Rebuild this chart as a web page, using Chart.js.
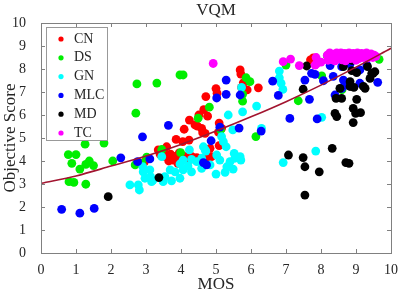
<!DOCTYPE html>
<html>
<head>
<meta charset="utf-8">
<script src="https://cdn.jsdelivr.net/npm/chart.js@4/dist/chart.umd.min.js"></script>
<style>
  body { margin: 0; background: #fff; }
</style>
</head>
<body>
<canvas id="myChart" width="399" height="295"></canvas>
<script>
const seriesNames = ['CN', 'DS', 'GN', 'MLC', 'MD', 'TC']
const seriesColors = ['#ff0000', '#00ee00', '#00ffff', '#0000ff', '#000000', '#ff00ff']

const cnPoints = [
  [2.95, 3.95], [3.35, 4.48], [3.4, 4.3], [3.5, 4.4], [3.54, 4.2], [3.59, 4.62], [3.65, 4.0],
  [3.7, 4.3], [3.77, 4.04], [3.8, 4.2], [3.86, 4.94], [3.91, 3.9], [3.95, 4.35], [4.0, 4.1],
  [4.05, 4.84], [4.09, 5.38], [4.1, 4.2], [4.2, 4.0], [4.23, 4.91], [4.24, 5.78], [4.3, 4.2],
  [4.4, 5.57], [4.45, 4.15], [4.47, 5.52], [4.51, 6.0], [4.59, 5.42], [4.62, 5.23], [4.65, 6.23],
  [4.69, 5.2], [4.71, 6.8], [4.73, 4.15], [4.76, 5.95], [4.83, 4.55], [4.87, 4.19], [5.0, 7.15],
  [5.03, 6.95], [5.07, 5.25], [5.09, 5.65], [5.09, 4.67], [5.16, 5.42], [5.69, 7.96], [5.71, 7.78],
  [5.73, 7.2], [5.78, 7.4], [5.89, 7.09], [6.21, 7.18], [7.7, 8.4], [7.78, 8.48]
]
const dsPoints = [
  [0.78, 4.28], [1.0, 4.28], [0.88, 3.9], [1.11, 3.65], [1.28, 3.85], [1.38, 4.0], [1.5, 3.8],
  [0.8, 3.1], [0.94, 3.07], [1.28, 2.99], [1.26, 4.73], [1.8, 4.78], [2.05, 4.0], [2.69, 3.83],
  [2.88, 3.9], [3.02, 4.17], [3.45, 4.5], [3.99, 4.36], [2.71, 6.08], [2.74, 7.35], [3.31, 7.39],
  [3.97, 7.74], [4.06, 7.74], [4.49, 5.86], [4.81, 6.34], [5.13, 5.35], [5.76, 6.6], [5.76, 6.9],
  [5.86, 7.62], [5.97, 7.45], [6.14, 5.06], [7.0, 8.17], [7.35, 6.62], [8.02, 7.7], [8.18, 8.57],
  [8.6, 7.1], [9.66, 8.42]
]
const gnPoints = [
  [2.54, 2.96], [2.78, 2.96], [2.81, 2.74], [2.92, 3.53], [3.13, 3.32], [3.16, 3.1], [2.91, 3.75],
  [2.97, 3.25], [3.11, 3.61], [3.2, 3.17], [3.49, 3.1], [3.54, 3.32], [3.69, 3.61], [3.73, 3.14],
  [3.83, 3.53], [3.97, 3.25], [4.06, 3.61], [4.3, 3.53], [3.97, 3.87], [4.2, 3.78], [4.06, 4.04],
  [4.3, 4.07], [4.45, 3.97], [4.59, 4.12], [4.24, 4.48], [3.45, 4.19], [4.59, 3.68], [4.64, 4.62],
  [4.71, 4.43], [4.69, 4.48], [4.83, 3.83], [5.0, 3.43], [5.02, 4.26], [5.11, 4.04], [5.26, 3.51],
  [5.31, 3.75], [5.4, 3.97], [5.49, 3.65], [5.54, 4.12], [5.52, 4.33], [5.69, 4.19], [5.71, 4.04],
  [5.16, 5.06], [5.21, 4.84], [5.29, 4.62], [5.48, 5.35], [5.35, 6.0], [5.76, 6.14], [5.73, 7.2],
  [6.16, 6.39], [6.3, 5.42], [6.81, 7.91], [6.81, 7.62], [6.86, 7.38], [6.91, 7.11], [6.92, 3.93],
  [7.85, 4.43], [8.02, 5.9]
]
const mlcPoints = [
  [0.59, 1.9], [1.11, 1.73], [1.52, 1.94], [2.28, 4.14], [2.76, 3.97], [3.11, 4.09], [2.9, 5.05],
  [3.64, 5.55], [4.64, 3.93], [4.73, 3.83], [4.86, 4.88], [5.11, 5.47], [5.02, 6.74], [5.29, 6.9],
  [5.29, 7.52], [5.66, 5.43], [5.69, 6.87], [6.62, 7.47], [6.78, 6.85], [6.29, 5.3], [7.11, 5.85],
  [7.89, 5.83], [7.54, 7.52], [7.67, 6.68], [7.73, 7.81], [7.83, 7.77], [8.07, 7.49], [8.26, 8.15],
  [8.35, 7.68], [8.4, 6.87], [8.59, 7.16], [8.59, 8.1], [8.64, 7.52], [8.73, 7.3], [8.83, 8.22],
  [9.11, 7.96], [9.11, 7.38], [9.31, 8.17], [9.62, 7.42]
]
const mdPoints = [
  [1.92, 2.45], [3.37, 3.28], [7.07, 4.26], [7.49, 4.15], [7.54, 3.75], [7.95, 3.53], [7.54, 2.52],
  [8.32, 4.55], [8.71, 3.93], [8.8, 3.9], [7.49, 7.12], [7.59, 8.13], [8.43, 6.72], [8.59, 6.72],
  [8.4, 6.07], [8.45, 5.93], [8.92, 6.29], [8.99, 6.07], [9.13, 6.1], [8.92, 5.67], [8.83, 7.45],
  [8.94, 7.2], [8.83, 7.24], [9.49, 7.81], [9.4, 7.59], [9.33, 8.1], [9.02, 7.84], [8.88, 7.93],
  [9.26, 7.16], [8.89, 8.37], [8.54, 7.16], [9.54, 7.88], [9.21, 7.24], [9.02, 6.68], [8.64, 8.1],
  [9.45, 7.81]
]
const tcPoints = [
  [4.92, 8.24], [6.92, 8.32], [7.13, 8.43], [7.38, 8.15], [7.83, 8.17], [7.87, 8.22], [7.86, 8.5],
  [8.0, 8.3], [8.18, 8.6], [8.22, 8.45], [8.25, 8.7], [8.3, 8.55], [8.33, 8.4], [8.38, 8.65],
  [8.42, 8.5], [8.45, 8.7], [8.5, 8.45], [8.53, 8.6], [8.57, 8.7], [8.6, 8.4], [8.64, 8.55],
  [8.68, 8.68], [8.72, 8.48], [8.76, 8.62], [8.8, 8.7], [8.84, 8.45], [8.88, 8.58], [8.92, 8.68],
  [8.96, 8.5], [9.0, 8.62], [9.04, 8.7], [9.08, 8.45], [9.12, 8.58], [9.16, 8.68], [9.2, 8.5],
  [9.25, 8.62], [9.3, 8.7], [9.34, 8.48], [9.38, 8.6], [9.43, 8.66], [9.48, 8.5], [9.52, 8.6],
  [9.57, 8.55], [8.4, 8.35], [8.7, 8.35], [9.0, 8.38], [8.2, 8.38]
]
const allPoints = [cnPoints, dsPoints, gnPoints, mlcPoints, mdPoints, tcPoints]

// fitted curve
const fitX = [0, 1, 2, 3, 4, 5, 6, 7, 8, 9, 10]
const fitY = [3.03, 3.35, 3.78, 4.22, 4.72, 5.3, 5.92, 6.58, 7.3, 8.08, 8.9]

const xTicks = [0, 1, 2, 3, 4, 5, 6, 7, 8, 9, 10]
const yTicks = [0, 1, 2, 3, 4, 5, 6, 7, 8, 9, 10]

const serif = '"Liberation Serif", "Times New Roman", serif'
const textColor = '#262626'

const datasets = allPoints.map((pts, i) => ({
  label: seriesNames[i],
  data: pts.map(p => ({ x: p[0], y: p[1] })),
  backgroundColor: seriesColors[i],
  borderWidth: 0,
  pointRadius: 4.4,
  order: 6 - i
}))
datasets.push({
  label: 'fit',
  data: fitX.map((x, i) => ({ x: x, y: fitY[i] })),
  showLine: true,
  borderColor: '#a2142f',
  borderWidth: 1.6,
  pointRadius: 0,
  tension: 0.4,
  cubicInterpolationMode: 'monotone',
  order: 0
})

// inward ticks, box and legend like the matlab figure
const boxPlugin = {
  id: 'boxPlugin',
  afterDatasetsDraw(chart) {
    const { ctx, chartArea: a, scales } = chart
    const x = scales.x, y = scales.y
    ctx.save()
    ctx.strokeStyle = '#808080'
    ctx.lineWidth = 1
    ctx.beginPath()
    xTicks.forEach(v => {
      const px = Math.round(x.getPixelForValue(v)) + 0.5
      ctx.moveTo(px, a.bottom); ctx.lineTo(px, a.bottom - 4)
      ctx.moveTo(px, a.top); ctx.lineTo(px, a.top + 4)
    })
    yTicks.forEach(v => {
      const py = Math.round(y.getPixelForValue(v)) + 0.5
      ctx.moveTo(a.left, py); ctx.lineTo(a.left + 4, py)
      ctx.moveTo(a.right, py); ctx.lineTo(a.right - 4, py)
    })
    ctx.stroke()
    ctx.strokeRect(Math.round(a.left) + 0.5, Math.round(a.top) + 0.5,
      Math.round(a.right - a.left), Math.round(a.bottom - a.top))

    // legend
    const lx = a.left + 5, ly = a.top + 4
    ctx.fillStyle = '#fff'
    ctx.fillRect(lx, ly, 61, 113)
    ctx.strokeStyle = '#999'
    ctx.strokeRect(Math.round(lx) + 0.5, Math.round(ly) + 0.5, 61, 113)
    ctx.font = '14px ' + serif
    ctx.textBaseline = 'middle'
    seriesNames.forEach((name, i) => {
      const cy = ly + 12 + i * 18.8
      ctx.fillStyle = seriesColors[i]
      ctx.beginPath()
      ctx.arc(lx + 15, cy, 2.6, 0, Math.PI * 2)
      ctx.fill()
      ctx.fillStyle = textColor
      ctx.fillText(name, lx + 28, cy)
    })
    ctx.restore()
  }
}

const ctx = document.getElementById('myChart')
new Chart(ctx, {
  type: 'scatter',
  data: { datasets: datasets },
  options: {
    responsive: false,
    animation: false,
    layout: { padding: { top: 0, right: 8, bottom: 0, left: 0 } },
    plugins: { legend: { display: false }, tooltip: { enabled: false } },
    scales: {
      x: {
        type: 'linear', min: 0, max: 10,
        afterBuildTicks: s => { s.ticks = xTicks.map(v => ({ value: v })) },
        ticks: { font: { family: serif, size: 14 }, color: textColor, padding: 1, maxRotation: 0 },
        grid: { display: false },
        border: { display: false },
        title: { display: true, text: 'MOS', font: { family: serif, size: 17 }, color: textColor, padding: 0 },
        afterFit: s => { s.height = 42 }
      },
      x2: {
        type: 'linear', position: 'top', min: 0, max: 10,
        ticks: { display: false },
        grid: { display: false },
        border: { display: false },
        title: { display: true, text: 'VQM', font: { family: serif, size: 17 }, color: textColor, padding: 0 },
        afterFit: s => { s.height = 23 }
      },
      y: {
        type: 'linear', min: 0, max: 10,
        afterBuildTicks: s => { s.ticks = yTicks.map(v => ({ value: v })) },
        ticks: { font: { family: serif, size: 14 }, color: textColor, padding: 7 },
        grid: { display: false },
        border: { display: false },
        title: { display: true, text: 'Objective Score', font: { family: serif, size: 17 }, color: textColor, padding: 0 },
        afterFit: s => { s.width = 41 }
      }
    }
  },
  plugins: [boxPlugin]
})
</script>
</body>
</html>
